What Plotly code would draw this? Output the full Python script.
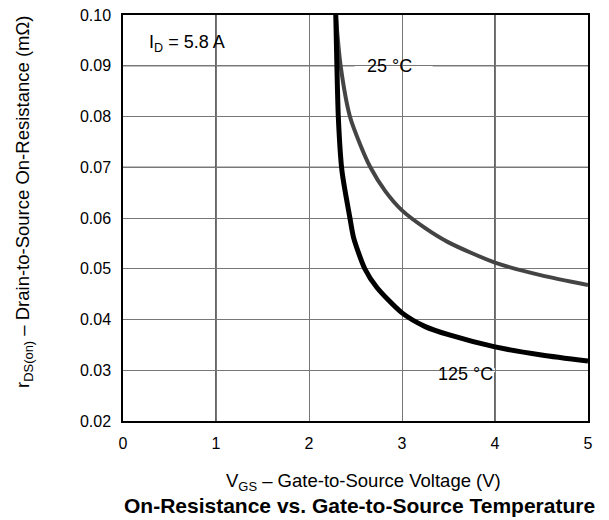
import plotly.graph_objects as go

# Data
vgs_25 = [2.288, 2.34, 2.44, 2.55, 2.66, 2.82, 3.0, 3.25, 3.5, 4.0, 4.5, 5.0]
rds_25 = [0.100, 0.090, 0.080, 0.0745, 0.070, 0.0653, 0.0615, 0.0580, 0.0552, 0.0512, 0.0487, 0.0468]

vgs_125 = [2.288, 2.30, 2.315, 2.35, 2.37, 2.44, 2.48, 2.60, 2.73, 3.0, 3.25, 3.5, 4.0, 4.5, 5.0]
rds_125 = [0.100, 0.090, 0.080, 0.070, 0.0673, 0.060, 0.0561, 0.050, 0.0463, 0.0413, 0.0386, 0.0370, 0.0346, 0.0330, 0.0318]

x_ticks = [0, 1, 2, 3, 4, 5]
y_ticks = [0.02, 0.03, 0.04, 0.05, 0.06, 0.07, 0.08, 0.09, 0.10]
y_tick_text = ["0.02", "0.03", "0.04", "0.05", "0.06", "0.07", "0.08", "0.09", "0.10"]

black_grid_x = [1, 4]
black_grid_y = [0.09, 0.07, 0.04]

FONT = "Liberation Sans, Arial, Helvetica, sans-serif"

# The page body has an 8px margin; plot area should appear at screen x 123..588, y 15..421
OFF = 8
W, H = 609 - OFF, 520 - OFF
L, R, T, B = 123 - OFF, 21, 15 - OFF, 99
PW, PH = W - L - R, H - T - B


def px_x(X):
    return (X - OFF - L) / PW


def px_y(Y):
    return (H - B - (Y - OFF)) / PH


fig = go.Figure()
fig.add_trace(go.Scatter(x=vgs_25, y=rds_25, mode="lines",
                         line=dict(color="#444444", width=4, shape="spline", smoothing=0.7),
                         showlegend=False, hoverinfo="skip"))
fig.add_trace(go.Scatter(x=vgs_125, y=rds_125, mode="lines",
                         line=dict(color="#000000", width=5, shape="spline", smoothing=0.7),
                         showlegend=False, hoverinfo="skip"))

shapes = []
# white gaps in grid lines behind the labels
shapes.append(dict(type="line", xref="x", yref="y", x0=2.49, x1=3.33, y0=0.09, y1=0.09,
                   line=dict(color="white", width=4), layer="below"))
shapes.append(dict(type="line", xref="x", yref="y", x0=3.03, x1=4.09, y0=0.03, y1=0.03,
                   line=dict(color="white", width=4), layer="below"))
for gx in black_grid_x:
    shapes.append(dict(type="line", xref="x", yref="paper", x0=gx, x1=gx, y0=0, y1=1,
                       line=dict(color="black", width=1.2), layer="below"))
for gy in black_grid_y:
    segs = [(0, 2.49), (3.33, 5)] if gy == 0.09 else [(0, 5)]
    for a, b in segs:
        shapes.append(dict(type="line", xref="x", yref="y", x0=a, x1=b, y0=gy, y1=gy,
                           line=dict(color="black", width=1.2), layer="below"))

fig.update_layout(
    width=W, height=H,
    margin=dict(l=L, r=R, t=T, b=B, autoexpand=False),
    paper_bgcolor="white", plot_bgcolor="white",
    font=dict(family=FONT, size=16, color="black"),
    shapes=shapes,
    xaxis=dict(range=[0, 5], tickvals=x_ticks, showgrid=True, gridcolor="#777777", gridwidth=1.2,
               showline=True, linecolor="black", linewidth=1.5, mirror=True, automargin=False,
               ticks="", zeroline=False, tickfont=dict(size=16), ticklabelstandoff=7,
               ticklabeloverflow="allow", fixedrange=True),
    yaxis=dict(range=[0.02, 0.10], tickvals=y_ticks, ticktext=y_tick_text,
               showgrid=True, gridcolor="#777777", gridwidth=1.2, automargin=False,
               showline=True, linecolor="black", linewidth=1.5, mirror=True,
               ticks="", zeroline=False, tickfont=dict(size=16), ticklabelstandoff=7,
               ticklabeloverflow="allow", fixedrange=True),
    annotations=[
        dict(text="I<sub>D</sub> = 5.8 A", x=0.258, y=0.0943, xref="x", yref="y",
             xanchor="left", yanchor="middle", showarrow=False, font=dict(size=18)),
        dict(text="25 °C", x=2.865, y=0.09, xref="x", yref="y",
             xanchor="center", yanchor="middle", showarrow=False, font=dict(size=18)),
        dict(text="125 °C", x=3.68, y=0.0293, xref="x", yref="y",
             xanchor="center", yanchor="middle", showarrow=False, font=dict(size=18)),
        dict(text="V<sub>GS</sub> – Gate-to-Source Voltage (V)", x=px_x(363), y=px_y(482),
             xref="paper", yref="paper", xanchor="center", yanchor="middle",
             showarrow=False, font=dict(size=18.5)),
        dict(text="<b>On-Resistance vs. Gate-to-Source Temperature</b>", x=px_x(359.5),
             y=px_y(505), xref="paper", yref="paper", xanchor="center", yanchor="middle",
             showarrow=False, font=dict(size=21)),
        dict(text="r<sub>DS(on)</sub> – Drain-to-Source On-Resistance (mΩ)", x=px_x(24),
             y=px_y(202), xref="paper", yref="paper", xanchor="center", yanchor="middle",
             textangle=-90, showarrow=False, font=dict(size=18.5)),
    ],
)

fig.write_html("out.html")
